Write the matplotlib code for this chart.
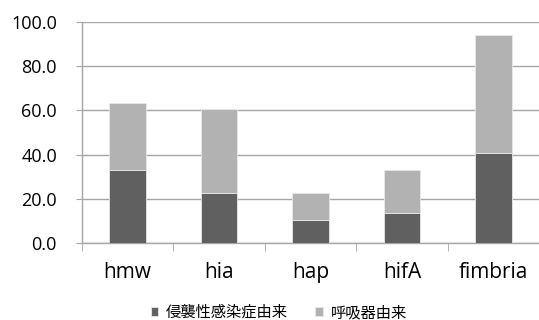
import numpy as np
import matplotlib.pyplot as plt

genes = ['hmw', 'hia', 'hap', 'hifA', 'fimbria']
invasive = [33.2, 22.8, 10.5, 13.6, 40.9]
respiratory = [30.3, 37.7, 12.1, 19.6, 53.2]
series_names = ['侵襲性感染症由来', '呼吸器由来']
yticks = [0, 20, 40, 60, 80, 100]

dark = '#606060'
light = '#b2b2b2'
grid_c = '#a6a6a6'

fig = plt.figure(figsize=(5.39, 3.2), dpi=100)
ax = fig.add_axes([0.152, 0.241, 0.848, 0.69])

x = np.arange(len(genes))
ax.bar(x, invasive, width=0.4, color=dark, edgecolor='#e8e8e8', linewidth=0.6,
       label=series_names[0], zorder=3)
ax.bar(x, respiratory, width=0.4, bottom=invasive, color=light, edgecolor='#e8e8e8',
       linewidth=0.6, label=series_names[1], zorder=3)

ax.set_xlim(-0.5, len(genes) - 0.5)
ax.set_ylim(0, 100)
ax.set_yticks(yticks)
ax.set_yticklabels([f'{v:.1f}' for v in yticks], fontsize=13, family='Open Sans')
ax.yaxis.grid(True, color=grid_c, linewidth=1.0, zorder=0)
ax.tick_params(axis='y', length=4, color=grid_c, pad=14)

ax.set_xticks(x)
ax.set_xticklabels(genes, fontsize=15, family='Open Sans')
ax.set_xticks(np.arange(-0.5, len(genes)), minor=True)
ax.tick_params(axis='x', which='major', length=0, pad=14)
ax.tick_params(axis='x', which='minor', length=6, color=grid_c, direction='out')

for side in ['top', 'right']:
    ax.spines[side].set_visible(False)
for side in ['left', 'bottom']:
    ax.spines[side].set_color(grid_c)
    ax.spines[side].set_linewidth(1.0)

leg = fig.legend(loc='lower center', bbox_to_anchor=(0.517, -0.046), ncol=2, frameon=False,
                 prop={'family': ['Noto Sans CJK JP', 'DejaVu Sans'], 'size': 11},
                 handlelength=0.5, handleheight=0.5, handletextpad=0.5, columnspacing=1.8)

fig.savefig('out.png', dpi=100)
